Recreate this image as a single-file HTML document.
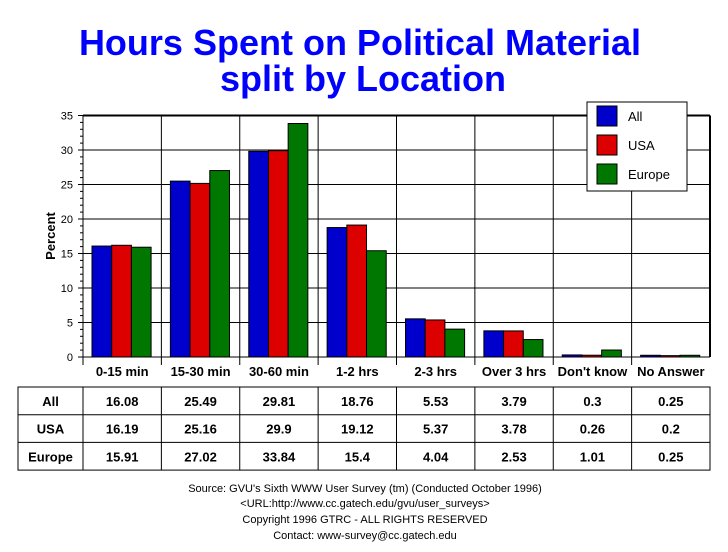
<!DOCTYPE html>
<html><head><meta charset="utf-8"><style>
body{margin:0;background:#fff;}
svg{display:block;font-family:"Liberation Sans",Arial,sans-serif;}
</style></head><body>
<svg id="c" width="728" height="552" viewBox="0 0 728 552">
<text x="360" y="55" text-anchor="middle" font-size="36" font-weight="bold" fill="#0000ff">Hours Spent on Political Material</text>
<text x="363" y="91" text-anchor="middle" font-size="36" font-weight="bold" fill="#0000ff">split by Location</text>
<g id="grid"></g><g id="bars"></g><g id="axes"></g><g id="table"></g>
<text transform="translate(55,236) rotate(-90)" text-anchor="middle" font-size="13" font-weight="bold">Percent</text>
<g>
<rect x="587" y="102" width="100" height="89" fill="#fff" stroke="#000"/>
<rect x="597" y="106" width="20" height="20" fill="#0000cc" stroke="#000"/>
<text x="628" y="121" font-size="13">All</text>
<rect x="597" y="135" width="20" height="20" fill="#dd0000" stroke="#000"/>
<text x="628" y="150" font-size="13">USA</text>
<rect x="597" y="164" width="20" height="20" fill="#007700" stroke="#000"/>
<text x="628" y="179" font-size="13">Europe</text>
</g>
<g font-size="11" text-anchor="middle">
<text x="365" y="492">Source: GVU's Sixth WWW User Survey (tm) (Conducted October 1996)</text>
<text x="365" y="507">&lt;URL:http://www.cc.gatech.edu/gvu/user_surveys&gt;</text>
<text x="365" y="523">Copyright 1996 GTRC - ALL RIGHTS RESERVED</text>
<text x="365" y="539">Contact: www-survey@cc.gatech.edu</text>
</g>
</svg>
<script>
const categories=["0-15 min","15-30 min","30-60 min","1-2 hrs","2-3 hrs","Over 3 hrs","Don't know","No Answer"];
const seriesNames=["All","USA","Europe"];
const allVals=[16.08,25.49,29.81,18.76,5.53,3.79,0.3,0.25];
const usaVals=[16.19,25.16,29.9,19.12,5.37,3.78,0.26,0.2];
const europeVals=[15.91,27.02,33.84,15.4,4.04,2.53,1.01,0.25];
const yTicks=[0,5,10,15,20,25,30,35];
const NS="http://www.w3.org/2000/svg";
const L=83,R=710,T=115.5,B=357,yMax=35;
const colors=["#0000cc","#dd0000","#007700"];
const series=[allVals,usaVals,europeVals];
const cw=(R-L)/categories.length;
const y=v=>B-(v/yMax)*(B-T);
const xc=i=>L+i*cw;
function mk(tag,attrs,parent,txt){const e=document.createElementNS(NS,tag);for(const k in attrs)e.setAttribute(k,attrs[k]);if(txt!==undefined)e.textContent=txt;parent.appendChild(e);return e;}
const grid=document.getElementById('grid'),bars=document.getElementById('bars'),axes=document.getElementById('axes'),table=document.getElementById('table');
yTicks.forEach(t=>{
 if(t>0){const g=mk('line',{x1:L,x2:R,y1:y(t),y2:y(t),stroke:'#000','stroke-width':t===35?2:1},grid);
 
 }
 const tx=mk('text',{x:L-10,y:y(t)+4,'text-anchor':'end','font-size':11},axes,String(t));
 
 
 mk('line',{x1:L-5,x2:L,y1:y(t),y2:y(t),stroke:'#000'},axes);
 if(t<35)for(let k=1;k<5;k++)mk('line',{x1:L-3,x2:L,y1:y(t+k),y2:y(t+k),stroke:'#000'},axes);
});
for(let i=1;i<categories.length;i++)mk('line',{x1:xc(i),x2:xc(i),y1:T,y2:B+8,stroke:'#000'},grid);
mk('line',{x1:R,x2:R,y1:T,y2:B,stroke:'#000','stroke-width':2},grid);
mk('line',{x1:L,x2:L,y1:T,y2:B+8,stroke:'#000'},axes);
mk('line',{x1:L,x2:R,y1:B,y2:B,stroke:'#000'},axes);
categories.forEach((c,i)=>{
 series.forEach((s,j)=>{
  const r=mk('rect',{x:xc(i)+9+j*19.7,y:y(s[i]),width:19.7,height:B-y(s[i]),fill:colors[j],stroke:'#000'},bars);
  
  
 });
 const t=mk('text',{x:xc(i)+cw/2,y:376,'text-anchor':'middle','font-size':13,'font-weight':'bold'},axes,c);
 
 
});
const tT=387,rh=27.7,tL=18;
mk('rect',{x:tL,y:tT,width:R-tL,height:rh*3,fill:'none',stroke:'#000'},table);
for(let r=1;r<3;r++)mk('line',{x1:tL,x2:R,y1:tT+r*rh,y2:tT+r*rh,stroke:'#000'},table);
for(let i=0;i<categories.length;i++)mk('line',{x1:xc(i),x2:xc(i),y1:tT,y2:tT+3*rh,stroke:'#000'},table);
seriesNames.forEach((n,j)=>{
 const h=mk('text',{x:(tL+L)/2,y:tT+j*rh+rh/2+5,'text-anchor':'middle','font-size':13,'font-weight':'bold'},table,n);
 
 
 series[j].forEach((v,i)=>{
  const t=mk('text',{x:xc(i)+cw/2,y:tT+j*rh+rh/2+5,'text-anchor':'middle','font-size':13,'font-weight':'bold'},table,String(v));
  
  
 });
});
</script>
</body></html>
